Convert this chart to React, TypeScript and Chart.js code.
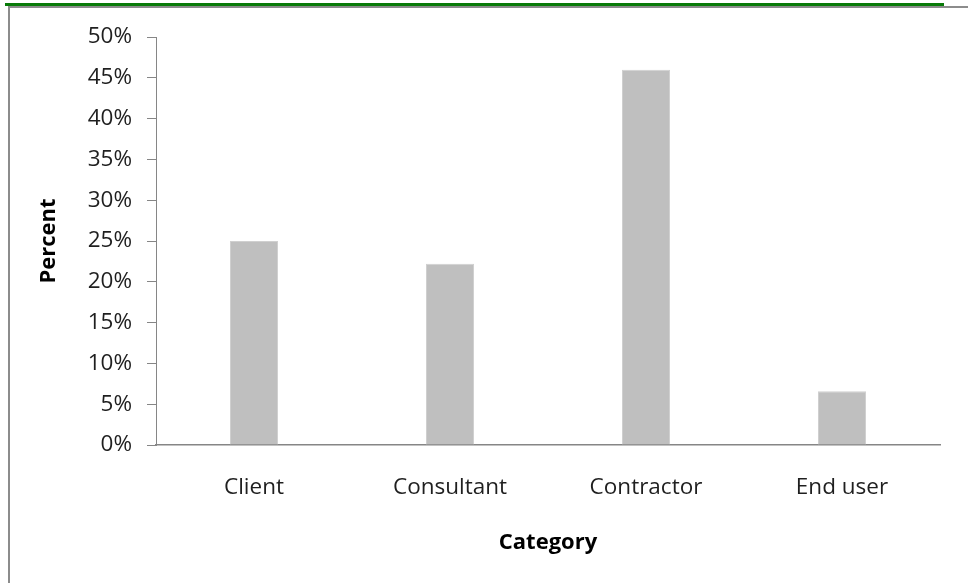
import React, { useEffect, useRef } from "react";
import { Chart, registerables } from "chart.js";

Chart.register(...registerables);

const categories = ["Client", "Consultant", "Contractor", "End user"];
const percentValues = [25.0, 22.2, 46.0, 6.6];
const yTickStep = 5;
const yMax = 50;

const FONT = "'Open Sans', sans-serif";
const TEXT = "#1f1f1f";
const AXIS = "#868686";

export default function App() {
  const ref = useRef<HTMLCanvasElement>(null);

  useEffect(() => {
    if (!ref.current) return;
    const chart = new Chart(ref.current, {
      type: "bar",
      data: {
        labels: categories,
        datasets: [
          {
            label: "Percent",
            data: percentValues,
            backgroundColor: "#bfbfbf",
            borderColor: "#d0d0d0",
            borderWidth: 1,
            categoryPercentage: 1,
            barPercentage: 0.245,
          },
        ],
      },
      options: {
        responsive: false,
        animation: false,
        layout: { padding: { top: 37, right: 28, left: 0, bottom: 0 } },
        plugins: {
          legend: { display: false },
          tooltip: { enabled: false },
        },
        scales: {
          x: {
            grid: { display: false, drawTicks: false, tickLength: 0 },
            border: { display: true, color: AXIS, width: 1.5 },
            ticks: {
              color: TEXT,
              font: { family: FONT, size: 22.5 },
              padding: 29,
              maxRotation: 0,
            },
            title: {
              display: true,
              text: "Category",
              color: "#000",
              font: { family: FONT, size: 22, weight: "bold" },
              padding: { top: 0, bottom: 27 },
            },
            afterFit: (s: any) => {
              s.height = 138;
            },
          },
          y: {
            min: 0,
            max: yMax,
            grid: {
              display: true,
              drawOnChartArea: false,
              drawTicks: true,
              tickLength: 9,
              color: AXIS,
              lineWidth: 1,
            },
            border: { display: true, color: AXIS, width: 1 },
            ticks: {
              stepSize: yTickStep,
              color: TEXT,
              font: { family: FONT, size: 22.5 },
              padding: 15,
              callback: (v: any) => `${v}%`,
            },
            title: {
              display: true,
              text: "Percent",
              color: "#000",
              font: { family: FONT, size: 22, weight: "bold" },
              padding: { top: 36, bottom: 0 },
            },
            afterFit: (s: any) => {
              s.width = 156;
            },
          },
        },
      },
    });
    return () => chart.destroy();
  }, []);

  return (
    <div
      style={{
        position: "fixed",
        left: 0,
        top: 0,
        width: 968,
        height: 583,
        background: "#fff",
        overflow: "hidden",
      }}
    >
      <div style={{ position: "absolute", left: 5, top: 3, width: 939, height: 3, background: "#087a08" }} />
      <div style={{ position: "absolute", left: 8, top: 6, width: 960, height: 2, background: "#8c8c8c" }} />
      <div style={{ position: "absolute", left: 8, top: 6, width: 2, height: 577, background: "#8c8c8c" }} />
      <canvas ref={ref} width={968} height={583} style={{ position: "absolute", left: 0, top: 0 }} />
    </div>
  );
}
